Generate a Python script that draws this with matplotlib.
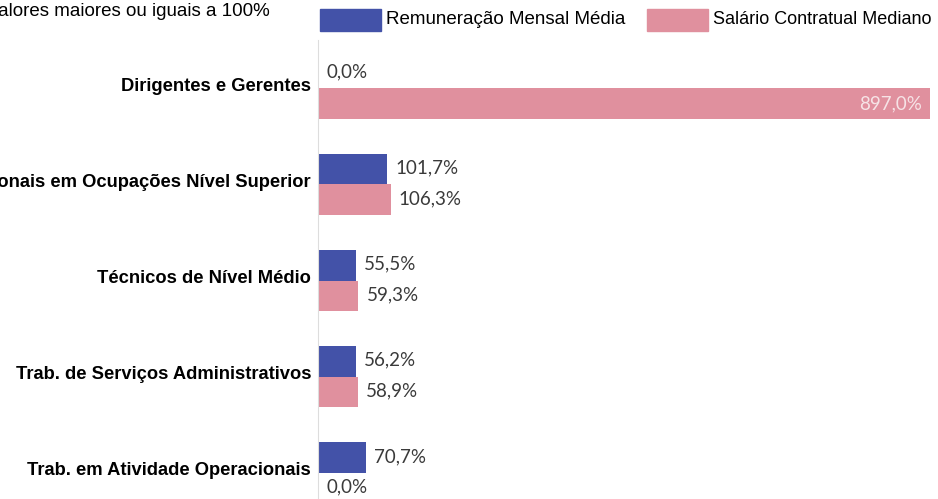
import numpy as np
import matplotlib.pyplot as plt
from matplotlib.patches import Rectangle

plt.rcParams['font.family'] = ['Liberation Sans', 'DejaVu Sans']

categorias = ['Dirigentes e Gerentes',
              'Profissionais em Ocupações Nível Superior',
              'Técnicos de Nível Médio',
              'Trab. de Serviços Administrativos',
              'Trab. em Atividade Operacionais']
remuneracao = [0.0, 101.7, 55.5, 56.2, 70.7]
salario = [897.0, 106.3, 59.3, 58.9, 0.0]
series = ['Remuneração Mensal Média', 'Salário Contratual Mediano']
titulo = 'Valores maiores ou iguais a 100%'

cor_azul = '#4352A8'
cor_rosa = '#E0909E'

W, H = 938, 499
fig = plt.figure(figsize=(W / 100, H / 100), dpi=100)

# axes placed in pixels, bottom runs off the figure like the original crop
left, right, top, bottom = 318, 930, 40, 521
ax = fig.add_axes([left / W, (H - bottom) / H, (right - left) / W, (bottom - top) / H])

y = np.arange(len(categorias))
h = 0.32
ax.barh(y - h / 2, remuneracao, height=h, color=cor_azul)
ax.barh(y + h / 2, salario, height=h, color=cor_rosa)

ax.set_xlim(0, max(salario))
ax.set_ylim(len(categorias) - 0.5, -0.5)

for s in ['top', 'right', 'bottom']:
    ax.spines[s].set_visible(False)
ax.spines['left'].set_color('#DDDDDD')
ax.set_xticks([])
ax.set_yticks([])

def fmt(v):
    return f'{v:.1f}%'.replace('.', ',')

lab_font = dict(family=['Lato', 'DejaVu Sans'], fontsize=13.5)
for i in range(len(categorias)):
    for v, yy in [(remuneracao[i], y[i] - h / 2), (salario[i], y[i] + h / 2)]:
        if v > 800:
            ax.annotate(fmt(v), (v, yy), xytext=(-8, 0), textcoords='offset pixels',
                        ha='right', va='center', color='#F6E3E6', **lab_font)
        else:
            ax.annotate(fmt(v), (v, yy), xytext=(8, 1), textcoords='offset pixels',
                        ha='left', va='center', color='#3A3A3A', **lab_font)
    ax.annotate(categorias[i], (0, y[i]), xycoords=('axes fraction', 'data'),
                xytext=(-7, 2), textcoords='offset pixels', ha='right', va='center',
                fontsize=13.2, fontweight='bold', color='black', annotation_clip=False)

fig.text(-13 / W, 1 - 11 / H, titulo, ha='left', va='center', fontsize=13.5)

# legend drawn by hand, in pixels from the top-left corner
leg = [(320, 386, cor_azul, series[0], 13.5), (647, 713, cor_rosa, series[1], 13)]
for px, tx, c, txt, fs in leg:
    fig.add_artist(Rectangle((px / W, 1 - 31 / H), 61 / W, 22 / H,
                             transform=fig.transFigure, color=c))
    fig.text(tx / W, 1 - 20 / H, txt, ha='left', va='center', fontsize=fs)

fig.savefig('out.png', dpi=100)
